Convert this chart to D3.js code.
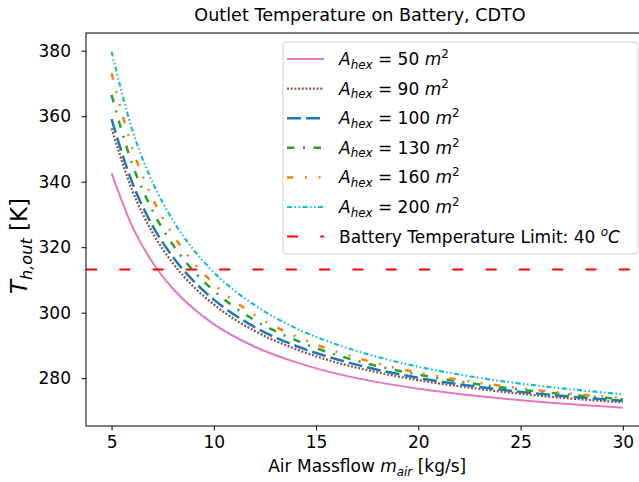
<!DOCTYPE html>
<html>
<head>
<meta charset="utf-8">
<script src="https://cdn.jsdelivr.net/npm/d3@7"></script>
<style>
  html, body { margin: 0; padding: 0; background: #fff; }
  svg { display: block; font-family: "DejaVu Sans", sans-serif; }
</style>
</head>
<body>
<svg id="chart" width="639" height="482"></svg>
<script>
// ---- data ----
const massflow = [5, 6, 7, 8, 9, 10, 12, 14, 16, 18, 20, 23, 26, 30];
const area50  = [342.6, 326.5, 315.4, 307.3, 301.3, 296.5, 289.6, 284.9, 281.4, 278.8, 276.8, 274.5, 272.7, 271.0];
const area90  = [356.3, 337.5, 324.5, 315.1, 308.0, 302.5, 294.4, 288.9, 284.8, 281.8, 279.4, 276.7, 274.6, 272.6];
const area100 = [359.1, 339.9, 326.6, 317.0, 309.7, 304.0, 295.6, 289.9, 285.8, 282.6, 280.1, 277.3, 275.2, 273.1];
const area130 = [366.5, 345.6, 331.2, 320.7, 312.8, 306.7, 297.7, 291.6, 287.1, 283.7, 281.1, 278.1, 275.8, 273.6];
const area160 = [373.1, 350.5, 335.0, 323.8, 315.4, 308.8, 299.3, 292.8, 288.1, 284.5, 281.7, 278.6, 276.2, 273.9];
const area200 = [379.7, 356.1, 339.9, 328.2, 319.3, 312.3, 302.3, 295.3, 290.3, 286.5, 283.5, 280.1, 277.6, 275.1];
const areaValues = [50, 90, 100, 130, 160, 200];
const tempLimit = 313.15; // 40 °C
const xTicks = [5, 10, 15, 20, 25, 30];
const yTicks = [280, 300, 320, 340, 360, 380];
const titleText = "Outlet Temperature on Battery, CDTO";
const limitLabel = "Battery Temperature Limit: 40 ";

const seriesStyles = [
  { color: "#e377c2", dash: null,                      width: 2 },
  { color: "#8c564b", dash: "2,1.7",                   width: 2.3 },
  { color: "#1f77b4", dash: "14,5",                    width: 2.5 },
  { color: "#2ca02c", dash: "7.5,8.5,2,8.5",           width: 2.5 },
  { color: "#ff7f0e", dash: "6.5,11.5,2,11.5,2,11.5",  width: 2.5 },
  { color: "#17becf", dash: "5,2.5,1.5,2.5,1.5,2.5",   width: 2.2 }
];
const seriesValues = [area50, area90, area100, area130, area160, area200];

// ---- layout ----
const svg = d3.select("#chart");
const L = 86, R = 648.4, T = 33, B = 426;
const FS = 17;

const x = d3.scaleLinear().domain([3.75, 31.25]).range([L, R]);
const y = d3.scaleLinear().domain([265.4, 385.4]).range([B, T]);

svg.append("defs").append("clipPath").attr("id", "plotclip")
  .append("rect").attr("x", L).attr("y", T).attr("width", R - L).attr("height", B - T);

const plot = svg.append("g").attr("clip-path", "url(#plotclip)");

const line = d3.line()
  .x((d, i) => x(massflow[i]))
  .y(d => y(d))
  .curve(d3.curveMonotoneX);

seriesValues.forEach((vals, k) => {
  const st = seriesStyles[k];
  plot.append("path")
    .attr("d", line(vals))
    .attr("fill", "none")
    .attr("stroke", st.color)
    .attr("stroke-width", st.width)
    .attr("stroke-dasharray", st.dash);
});

plot.append("line")
  .attr("x1", L).attr("x2", R)
  .attr("y1", y(tempLimit)).attr("y2", y(tempLimit))
  .attr("stroke", "#ff0000").attr("stroke-width", 2)
  .attr("stroke-dasharray", "11,22.3");

// frame
svg.append("rect")
  .attr("x", L).attr("y", T).attr("width", R - L).attr("height", B - T)
  .attr("fill", "none").attr("stroke", "#000").attr("stroke-width", 1);

// axes
const xAxis = svg.append("g").attr("transform", `translate(0,${B})`)
  .call(d3.axisBottom(x).tickValues(xTicks).tickSize(4.5).tickPadding(5));
const yAxis = svg.append("g").attr("transform", `translate(${L},0)`)
  .call(d3.axisLeft(y).tickValues(yTicks).tickSize(4.5).tickPadding(10.5));
[xAxis, yAxis].forEach(a => {
  a.select(".domain").remove();
  a.selectAll("line").attr("stroke", "#000").attr("stroke-width", 1);
  a.selectAll("text").attr("font-size", FS).attr("font-family", "DejaVu Sans").attr("fill", "#000");
});

// title
svg.append("text")
  .attr("x", 360).attr("y", 21)
  .attr("text-anchor", "middle").attr("font-size", 17.6).attr("fill", "#000")
  .text(titleText);

// x label
const xl = svg.append("text")
  .attr("x", (L + R) / 2).attr("y", 472)
  .attr("text-anchor", "middle").attr("font-size", FS).attr("fill", "#000");
xl.append("tspan").text("Air Massflow ");
xl.append("tspan").attr("font-style", "italic").text("m");
xl.append("tspan").attr("font-style", "italic").attr("font-size", FS * 0.7).attr("dy", 3.5).text("air");
xl.append("tspan").attr("dy", -3.5).text(" [kg/s]");

// y label
const YFS = 23;
const yl = svg.append("text")
  .attr("transform", "translate(27,246) rotate(-90)")
  .attr("text-anchor", "middle").attr("font-size", YFS).attr("fill", "#000");
yl.append("tspan").attr("font-style", "italic").text("T");
yl.append("tspan").attr("font-style", "italic").attr("font-size", YFS * 0.7).attr("dy", 4.5).text("h,out");
yl.append("tspan").attr("dy", -4.5).text(" [K]");

// legend
const lg = svg.append("g");
lg.append("rect")
  .attr("x", 283).attr("y", 42).attr("width", 355).attr("height", 212)
  .attr("rx", 4).attr("fill", "#fff").attr("fill-opacity", 0.85)
  .attr("stroke", "#d0d0d0").attr("stroke-width", 1);

const rowY = i => 59 + i * 29.6;
areaValues.forEach((a, i) => {
  const st = seriesStyles[i];
  lg.append("line")
    .attr("x1", 287).attr("x2", 324).attr("y1", rowY(i)).attr("y2", rowY(i))
    .attr("stroke", st.color).attr("stroke-width", st.width)
    .attr("stroke-dasharray", st.dash);
  const t = lg.append("text").attr("x", 339).attr("y", rowY(i) + 6)
    .attr("font-size", FS).attr("fill", "#000");
  t.append("tspan").attr("font-style", "italic").text("A");
  t.append("tspan").attr("font-style", "italic").attr("font-size", FS * 0.7).attr("dy", 3.5).text("hex");
  t.append("tspan").attr("dy", -3.5).text(` = ${a} `);
  t.append("tspan").attr("font-style", "italic").text("m");
  t.append("tspan").attr("font-size", FS * 0.7).attr("dy", -7).text("2");
});
{
  const i = 6;
  lg.append("line")
    .attr("x1", 287).attr("x2", 324).attr("y1", rowY(i)).attr("y2", rowY(i))
    .attr("stroke", "#ff0000").attr("stroke-width", 2)
    .attr("stroke-dasharray", "11,22.3");
  const t = lg.append("text").attr("x", 339).attr("y", rowY(i) + 6)
    .attr("font-size", FS).attr("fill", "#000");
  t.append("tspan").text(limitLabel);
  t.append("tspan").attr("font-style", "italic").attr("font-size", FS * 0.7).attr("dy", -7).text("o");
  t.append("tspan").attr("font-style", "italic").attr("dy", 7).text("C");
}
</script>
</body>
</html>
